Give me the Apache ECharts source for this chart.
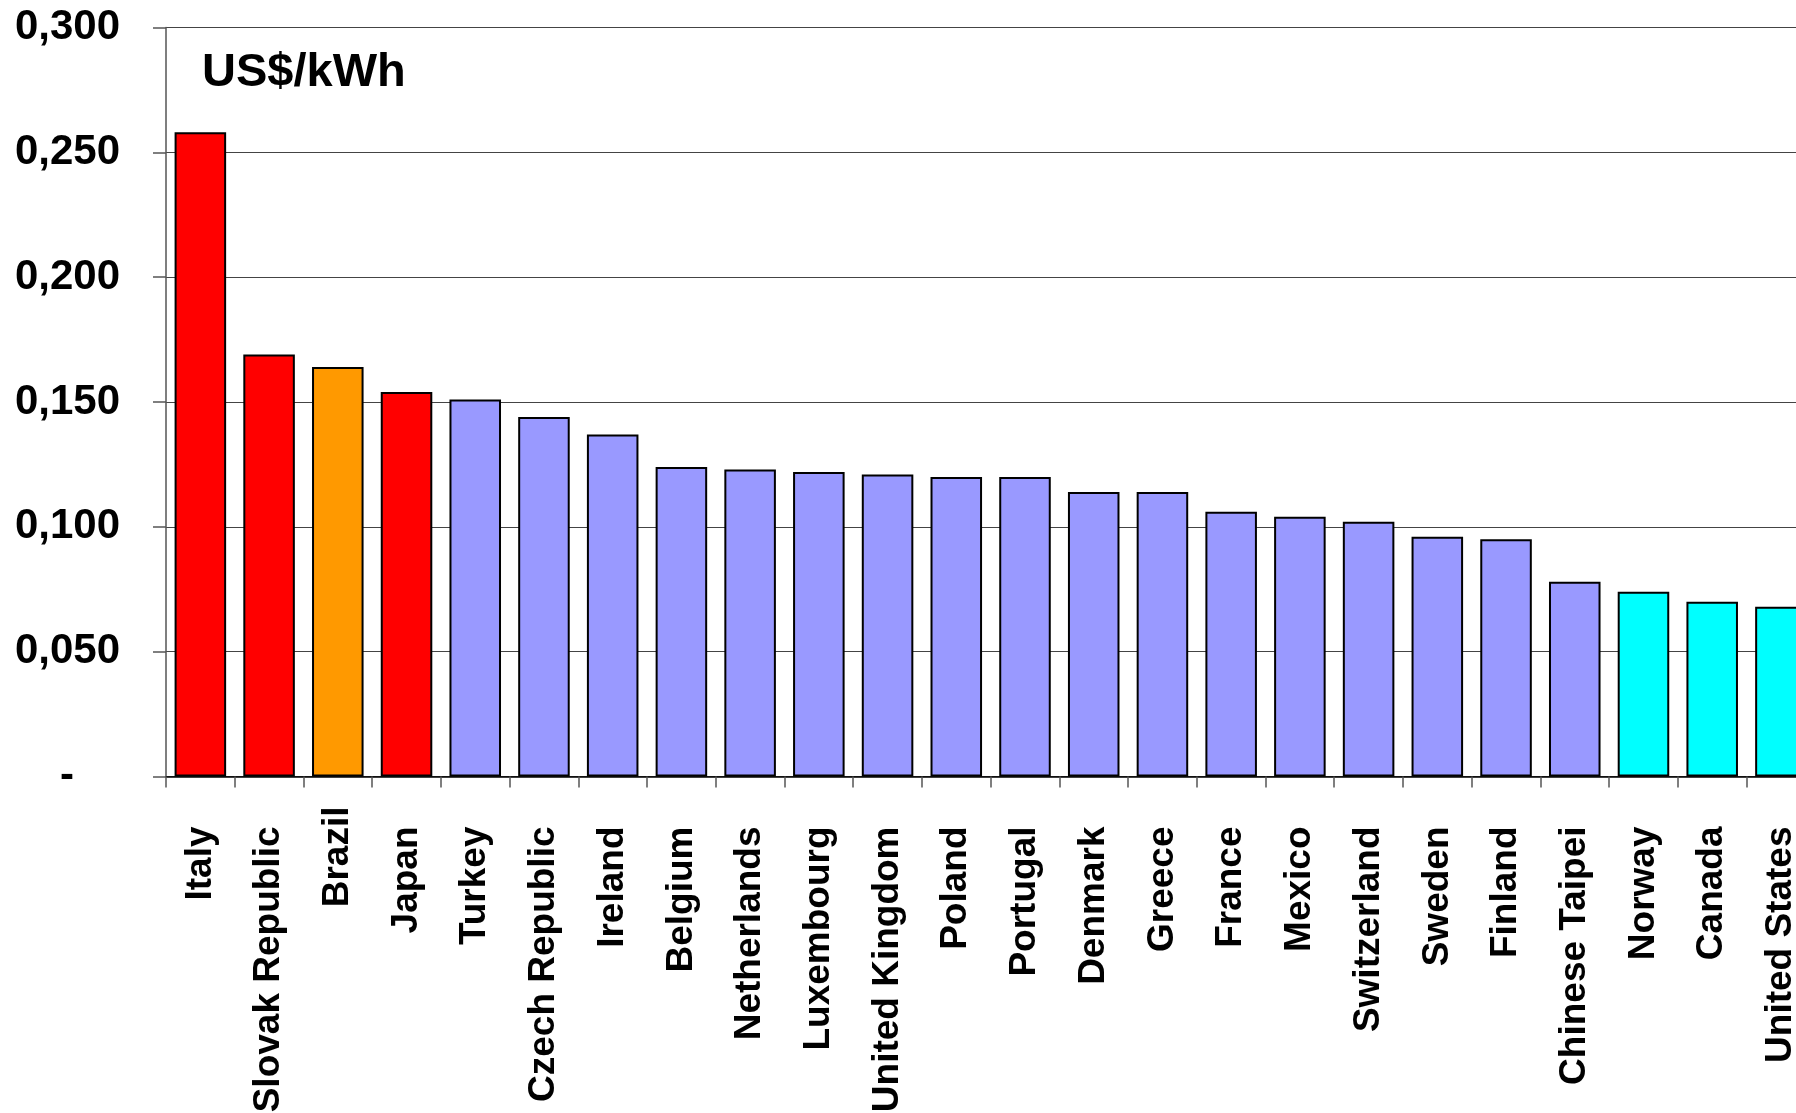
<!DOCTYPE html>
<html>
<head>
<meta charset="utf-8">
<title>Electricity prices, US$/kWh</title>
<script src="https://cdn.jsdelivr.net/npm/echarts@6/dist/echarts.min.js"></script>
<style>
  html, body { margin: 0; padding: 0; background: #fff; }
  #chart { width: 1796px; height: 1113px; }
</style>
</head>
<body>
<div id="chart"></div>
<script>
// Electricity price by country, US$ per kWh
const countries = [
  'Italy', 'Slovak Republic', 'Brazil', 'Japan', 'Turkey', 'Czech Republic',
  'Ireland', 'Belgium', 'Netherlands', 'Luxembourg', 'United Kingdom', 'Poland',
  'Portugal', 'Denmark', 'Greece', 'France', 'Mexico', 'Switzerland',
  'Sweden', 'Finland', 'Chinese Taipei', 'Norway', 'Canada', 'United States'
];
const prices = [
  0.258, 0.169, 0.164, 0.154, 0.151, 0.144,
  0.137, 0.124, 0.123, 0.122, 0.121, 0.120,
  0.120, 0.114, 0.114, 0.106, 0.104, 0.102,
  0.096, 0.095, 0.078, 0.074, 0.070, 0.068
];
// price band each country falls in
const bands = [
  'high', 'high', 'brazil', 'high', 'mid', 'mid',
  'mid', 'mid', 'mid', 'mid', 'mid', 'mid',
  'mid', 'mid', 'mid', 'mid', 'mid', 'mid',
  'mid', 'mid', 'mid', 'low', 'low', 'low'
];
const yTickLabels = ['-', '0,050', '0,100', '0,150', '0,200', '0,250', '0,300'];
const unitLabel = 'US$/kWh';

const bandColors = { high: '#FF0000', brazil: '#FF9900', mid: '#9999FF', low: '#00FFFF' };
const FONT = '"Liberation Sans", Arial, Helvetica, sans-serif';

const chart = echarts.init(document.getElementById('chart'));
chart.setOption({
  animation: false,
  backgroundColor: '#ffffff',
  grid: {
    left: 166, top: 27.5, width: 24 * 68.72, height: 749,
    containLabel: false, outerBoundsMode: 'none'
  },
  graphic: [{
    type: 'text', left: 202, top: 50,
    style: { text: unitLabel, fontFamily: FONT, fontWeight: 'bold', fontSize: 47, fill: '#000' }
  }],
  xAxis: {
    type: 'category',
    data: countries,
    boundaryGap: true,
    axisLine: { lineStyle: { color: '#000', width: 1.5 } },
    axisTick: { show: true, length: 11, lineStyle: { color: '#555', width: 1.5 } },
    axisLabel: {
      interval: 0, rotate: 90, margin: 30,
      fontFamily: FONT, fontWeight: 'bold', fontSize: 37, color: '#000',
      formatter: (name) => name === 'Brazil' ? '{b|' + name + '}' : '{n|' + name + '}',
      rich: {
        n: { fontFamily: FONT, fontWeight: 'bold', fontSize: 37, color: '#000', padding: [0, 20, 0, 0] },
        b: { fontFamily: FONT, fontWeight: 'bold', fontSize: 37, color: '#000' }
      }
    }
  },
  yAxis: {
    type: 'value',
    min: 0, max: 0.3, interval: 0.05,
    axisLine: { show: true, lineStyle: { color: '#555', width: 1.5 } },
    axisTick: { show: true, length: 13, lineStyle: { color: '#555', width: 1.5 } },
    splitLine: { show: true, lineStyle: { color: '#444', width: 1.2 } },
    axisLabel: {
      margin: 46,
      fontFamily: FONT, fontWeight: 'bold', fontSize: 42, color: '#000',
      formatter: (v) => {
        const label = yTickLabels[Math.round(v / 0.05)];
        return v === 0 ? '{z|' + label + '}' : label;
      },
      rich: {
        z: { fontFamily: FONT, fontWeight: 'bold', fontSize: 42, color: '#000', padding: [0, 46, 0, 0] }
      }
    }
  },
  series: [{
    type: 'bar',
    barCategoryGap: '25%',
    data: prices.map((p, i) => ({
      value: p,
      itemStyle: { color: bandColors[bands[i]] }
    })),
    itemStyle: { borderColor: '#000', borderWidth: 2 }
  }]
});
</script>
</body>
</html>
